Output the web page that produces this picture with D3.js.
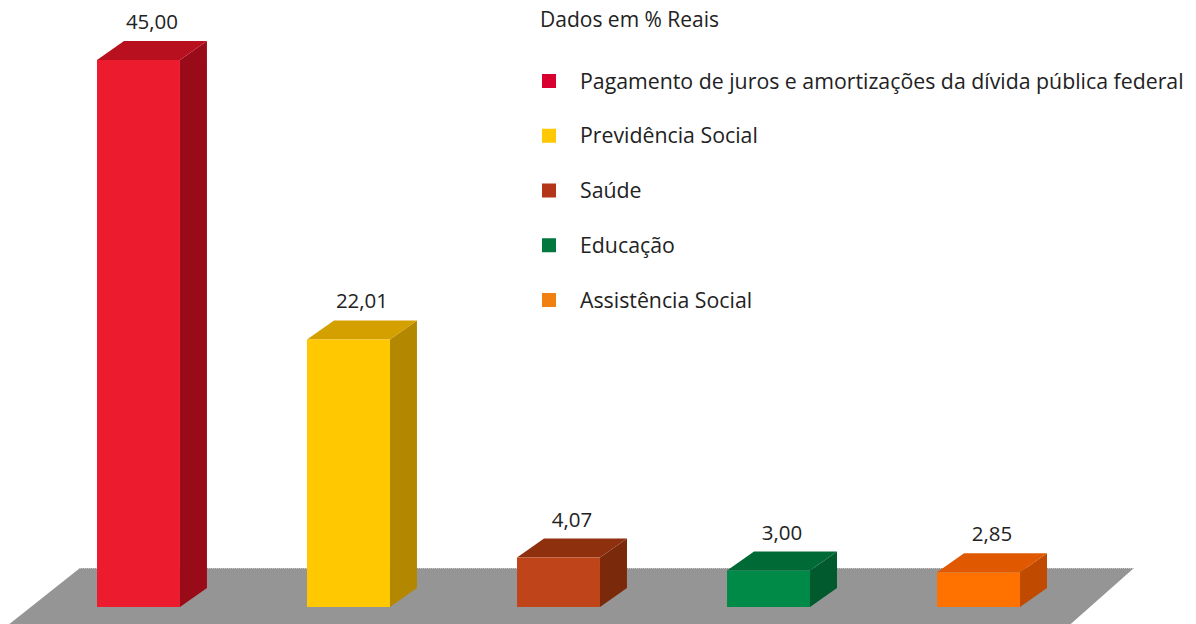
<!DOCTYPE html>
<html><head><meta charset="utf-8">
<script src="https://cdn.jsdelivr.net/npm/d3@7"></script>
<style>
html,body{margin:0;padding:0;background:#fff;}
svg{display:block;font-family:"Open Sans",sans-serif;}
</style></head>
<body><svg id="c" width="1196" height="624"></svg>
<script>
const categories = ["Pagamento de juros e amortizações da dívida pública federal","Previdência Social","Saúde","Educação","Assistência Social"];
const values = [45.00, 22.01, 4.07, 3.00, 2.85];
const valueLabels = ["45,00","22,01","4,07","3,00","2,85"];
const legendTitle = "Dados em % Reais";
const frontColors = ["#ED1B2E","#FFC800","#C04419","#008A48","#FF7200"];
const topColors   = ["#B8101F","#D4A000","#8E300D","#006A36","#E05800"];
const sideColors  = ["#9A0B19","#B48700","#7A2A0B","#005A2D","#C04A00"];
const legendColors= ["#D7002F","#FFC800","#B4361A","#00783E","#F0800F"];

const svg = d3.select("#c");
const base = 607, dx = 27, dy = -19;

const x = d3.scaleBand().domain(categories).range([97, 1020]).paddingInner(0.605).paddingOuter(0).align(0);
const y = d3.scaleLinear().domain([0, 45]).range([base, 60]);

// floor
const floorTop = 568;
svg.append("path")
  .attr("d", `M80,${floorTop} L1134,${floorTop} L${1134-1.13*70},${floorTop+70} L${80-1.26*70},${floorTop+70} Z`)
  .attr("fill", "#959595");
svg.append("line").attr("x1",80).attr("x2",1134).attr("y1",floorTop+0.5).attr("y2",floorTop+0.5)
  .attr("stroke","#c8c8c8").attr("stroke-width",1).attr("stroke-dasharray","1,1");

const bw = x.bandwidth();
const g = svg.append("g");
const bars = g.selectAll("g.bar").data(values).join("g").attr("class","bar");
bars.each(function(v, i){
  const sel = d3.select(this);
  const x0 = x(categories[i]), x1 = x0 + bw, yt = y(v), yb = y(0);
  sel.append("path").attr("d", `M${x1},${yt} L${x1+dx},${yt+dy} L${x1+dx},${yb+dy} L${x1},${yb} Z`)
    .attr("fill", sideColors[i]);
  sel.append("path").attr("d", `M${x0},${yt} L${x0+dx},${yt+dy} L${x1+dx},${yt+dy} L${x1},${yt} Z`)
    .attr("fill", topColors[i]);
  sel.append("rect").attr("x", x0).attr("y", yt).attr("width", bw).attr("height", yb - yt)
    .attr("fill", frontColors[i]);
  sel.append("text").attr("x", x0 + bw/2 + dx/2).attr("y", yt + dy - 12)
    .attr("text-anchor","middle").attr("font-size", 20.5).attr("fill","#222")
    .text(valueLabels[i]);
});

// legend
const lg = svg.append("g");
lg.append("text").attr("x", 540).attr("y", 27).attr("font-size", 21).attr("fill","#222").text(legendTitle);
const ly = d3.scalePoint().domain(categories).range([81, 300]);
categories.forEach((c, i) => {
  lg.append("rect").attr("x", 542).attr("y", ly(c) - 7).attr("width", 14).attr("height", 14).attr("fill", legendColors[i]);
  lg.append("text").attr("x", 580).attr("y", ly(c) + 7.5).attr("font-size", 21.3).attr("fill","#222").text(c);
});
</script></body></html>
